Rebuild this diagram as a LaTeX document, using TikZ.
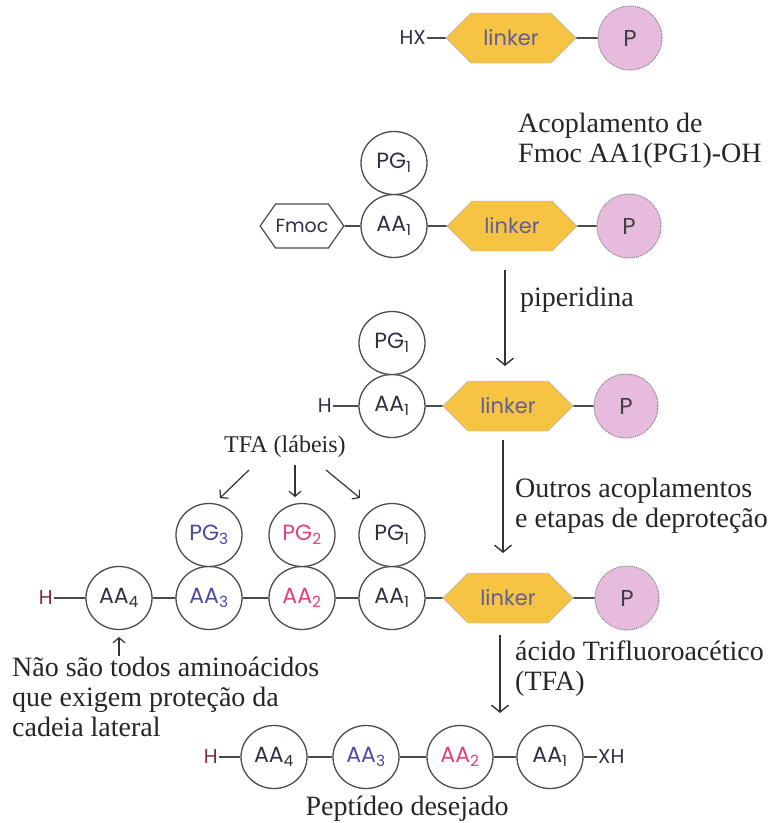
\documentclass[tikz,border=0pt]{standalone}
\usepackage{fontspec}
\setmainfont{Liberation Serif}
\newfontfamily\labelfont{Poppins}
\usetikzlibrary{shapes.geometric,shapes.symbols,arrows.meta}

\definecolor{linkerfill}{HTML}{F6C343}
\definecolor{resinfill}{HTML}{E6BBDD}
\definecolor{aablue}{HTML}{4B4BA6}
\definecolor{aapink}{HTML}{E0407E}
\definecolor{aadark}{HTML}{2F3042}
\definecolor{bondgray}{HTML}{4A4A4A}
\definecolor{hred}{HTML}{7B2E3E}

\newcommand{\amino}[1]{AA\textsubscript{#1}}
\newcommand{\prot}[1]{PG\textsubscript{#1}}

\begin{document}
\begin{tikzpicture}[x=1pt, y=-1pt,
  bond/.style={draw=bondgray, line width=1.8pt},
  react/.style={draw=black!80, line width=1.4pt, -{Straight Barb[length=7pt,width=17pt]}},
  smallreact/.style={draw=black!80, line width=1.2pt, -{Straight Barb[length=5pt,width=12pt]}},
  residue/.style={ellipse, draw=black!70, line width=1.3pt, fill=white, minimum width=66pt, minimum height=63pt, inner sep=0pt, font=\labelfont\fontsize{22}{24}\selectfont, text=aadark},
  linker/.style={signal, signal to=east and west, signal pointer angle=90, draw=black!30, fill=linkerfill, minimum width=130pt, minimum height=50pt, inner sep=0pt, font=\labelfont\fontsize{21}{22}\selectfont, text=aablue!60!gray},
  fmoc/.style={signal, signal to=east and west, signal pointer angle=110, draw=black!70, line width=1.2pt, fill=white, minimum width=71pt, minimum height=44pt, inner sep=0pt, font=\labelfont\fontsize{19}{20}\selectfont, text=aadark},
  resin/.style={circle, draw=black!50, densely dotted, line width=1pt, fill=resinfill, minimum size=64pt, inner sep=0pt, font=\labelfont\fontsize{23}{24}\selectfont, text=black!75},
  term/.style={inner sep=1pt, font=\labelfont\fontsize{20}{22}\selectfont, text=aadark},
  note/.style={font=\fontsize{28}{30}\selectfont, text=black!85, align=left, inner sep=0pt}
]
\fill[white] (0,0) rectangle (783,823);
\useasboundingbox (0,0) rectangle (783,823);

% Resin with linker
\node[term, anchor=east] (hx1) at (427,38) {HX};
\node[linker] (lk1) at (511,38) {linker};
\node[resin] (p1) at (630,38) {P};
\draw[bond] (hx1) -- (lk1) (lk1) -- (p1);

% First coupling (base anchor = last line)
\node[note, anchor=base west] (step1) at (518,162) {Acoplamento de\\Fmoc AA1(PG1)-OH};
\node[fmoc] (fm2) at (302,226) {Fmoc};
\node[residue] (aa2) at (394,226) {\amino{1}};
\node[residue] (pg2) at (394,163) {\prot{1}};
\node[linker] (lk2) at (512,226) {linker};
\node[resin] (p2) at (629,226) {P};
\draw[bond] (fm2) -- (aa2) (aa2) -- (lk2) (lk2) -- (p2);

% Deprotection
\coordinate (a1top) at (505,270);
\coordinate (a1tip) at (505,366);
\draw[react] (a1top) -- (a1tip);
\node[note, anchor=base west] (step2) at (520,306) {piperidina};

\node[term, anchor=east] (h3) at (333,406) {H};
\node[residue] (aa3) at (392,406) {\amino{1}};
\node[residue] (pg3) at (392,343) {\prot{1}};
\node[linker] (lk3) at (508,406) {linker};
\node[resin] (p3) at (626,406) {P};
\draw[bond] (h3) -- (aa3) (aa3) -- (lk3) (lk3) -- (p3);

% Further couplings
\coordinate (a2top) at (503,440);
\coordinate (a2tip) at (503,553);
\draw[react] (a2top) -- (a2tip);
\node[note, anchor=base west] (step3) at (515,527) {Outros acoplamentos\\e etapas de deproteção};

\node[note, font=\fontsize{24}{26}\selectfont, anchor=base west] (tfa) at (224,452) {TFA (lábeis)};
\coordinate (t3s) at (249,470); \coordinate (t3e) at (220,498);
\coordinate (t2s) at (295,465); \coordinate (t2e) at (295,497);
\coordinate (t1s) at (326,470); \coordinate (t1e) at (360,498);
\draw[smallreact] (t3s) -- (t3e);
\draw[smallreact] (t2s) -- (t2e);
\draw[smallreact] (t1s) -- (t1e);

\node[term, anchor=east, text=hred] (h4) at (54,598) {H};
\node[residue] (r4aa4) at (119,598) {\amino{4}};
\node[residue, text=aablue] (r4aa3) at (209,598) {\amino{3}};
\node[residue, text=aapink] (r4aa2) at (302,598) {\amino{2}};
\node[residue] (r4aa1) at (392,598) {\amino{1}};
\node[residue, text=aablue] (r4pg3) at (209,535) {\prot{3}};
\node[residue, text=aapink] (r4pg2) at (302,535) {\prot{2}};
\node[residue] (r4pg1) at (392,535) {\prot{1}};
\node[linker] (r4lk) at (508,598) {linker};
\node[resin] (r4p) at (627,598) {P};
\draw[bond] (h4) -- (r4aa4) (r4aa4) -- (r4aa3) (r4aa3) -- (r4aa2) (r4aa2) -- (r4aa1) (r4aa1) -- (r4lk) (r4lk) -- (r4p);

\coordinate (upend) at (119,656);
\coordinate (uptip) at (119,637);
\draw[smallreact] (upend) -- (uptip);
\node[note, anchor=base west] (remark) at (12,736) {Não são todos aminoácidos\\que exigem proteção da\\cadeia lateral};

% Cleavage
\coordinate (a3top) at (500,635);
\coordinate (a3tip) at (500,713);
\draw[react] (a3top) -- (a3tip);
\node[note, anchor=base west] (step4) at (515,690) {ácido Trifluoroacético\\(TFA)};

\node[term, anchor=east, text=hred] (h5) at (219,757) {H};
\node[residue] (f4) at (274,757) {\amino{4}};
\node[residue, text=aablue] (f3) at (366,757) {\amino{3}};
\node[residue, text=aapink] (f2) at (460,757) {\amino{2}};
\node[residue] (f1) at (550,757) {\amino{1}};
\node[term, anchor=west] (xh) at (597,757) {XH};
\draw[bond] (h5) -- (f4) (f4) -- (f3) (f3) -- (f2) (f2) -- (f1) (f1) -- (xh);
\node[note, anchor=base] (product) at (407,815) {Peptídeo desejado};
\end{tikzpicture}
\end{document}
